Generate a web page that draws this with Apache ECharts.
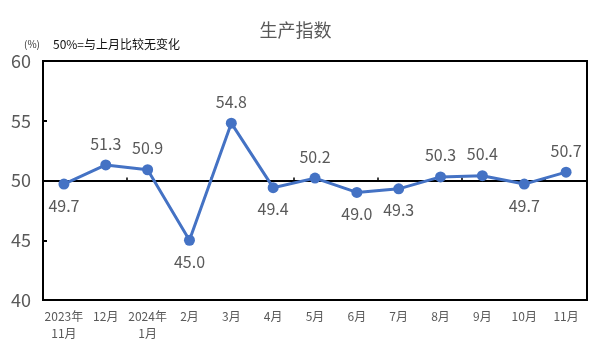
<!DOCTYPE html>
<html>
<head>
<meta charset="utf-8">
<script src="https://cdn.jsdelivr.net/npm/echarts@6/dist/echarts.min.js"></script>
<style>
  html, body { margin: 0; padding: 0; background: #fff; }
  #chart { width: 591px; height: 354px; }
</style>
</head>
<body>
<div id="chart"></div>
<script>
const categories = ['2023年\n11月', '12月', '2024年\n1月', '2月', '3月', '4月', '5月', '6月', '7月', '8月', '9月', '10月', '11月']
const values = [49.7, 51.3, 50.9, 45.0, 54.8, 49.4, 50.2, 49.0, 49.3, 50.3, 50.4, 49.7, 50.7]
const labelSide = ['bottom', 'top', 'top', 'bottom', 'top', 'bottom', 'top', 'bottom', 'bottom', 'top', 'top', 'bottom', 'top']

const font = '"Noto Sans CJK SC", "Liberation Sans", sans-serif'
const chart = echarts.init(document.getElementById('chart'))

chart.setOption({
  animation: false,
  textStyle: { fontFamily: font },
  title: {
    text: '生产指数',
    left: 'center',
    top: 16,
    textStyle: { color: '#595959', fontSize: 18, fontWeight: 'normal', fontFamily: font },
  },
  graphic: [
    { type: 'text', left: 24, top: 39, style: { text: '(%)', fontSize: 10, fill: '#333', fontFamily: font } },
    { type: 'text', left: 53, top: 38, style: { text: '50%=与上月比较无变化', fontSize: 12, fill: '#111', fontFamily: font } },
  ],
  grid: {
    left: 43, right: 4, top: 61, bottom: 54,
    show: true, borderColor: '#000', borderWidth: 2,
  },
  xAxis: [
    {
      type: 'category',
      data: categories,
      axisLine: { show: false },
      axisTick: { show: false },
      axisLabel: { color: '#595959', fontSize: 12, margin: 8, lineHeight: 17, interval: 0 },
    },
    {
      type: 'category',
      data: categories,
      position: 'bottom',
      axisLine: { onZero: true, onZeroAxisIndex: 1, lineStyle: { color: '#000', width: 2 } },
      axisTick: { show: true, inside: true, length: 3, lineStyle: { color: '#000', width: 1.5 } },
      axisLabel: { show: false },
    },
  ],
  yAxis: [
    {
      type: 'value',
      min: 40, max: 60, interval: 5,
      splitLine: { show: false },
      axisLine: { show: true, lineStyle: { color: '#000', width: 2 } },
      axisTick: { show: true, inside: true, length: 4, lineStyle: { color: '#000', width: 2 } },
      axisLabel: { color: '#595959', fontSize: 18, margin: 12 },
    },
    {
      type: 'value',
      min: -10, max: 10,
      show: false,
    },
  ],
  series: [
    {
      type: 'line',
      xAxisIndex: 1,
      yAxisIndex: 0,
      data: values.map((v, i) => ({
        value: v,
        label: { position: labelSide[i] },
      })),
      symbol: 'circle',
      symbolSize: 11,
      lineStyle: { color: '#4472C4', width: 3 },
      itemStyle: { color: '#4472C4' },
      label: {
        show: true,
        color: '#595959',
        fontSize: 16,
        distance: 8,
        formatter: p => p.value.toFixed(1),
      },
    },
  ],
})
</script>
</body>
</html>
